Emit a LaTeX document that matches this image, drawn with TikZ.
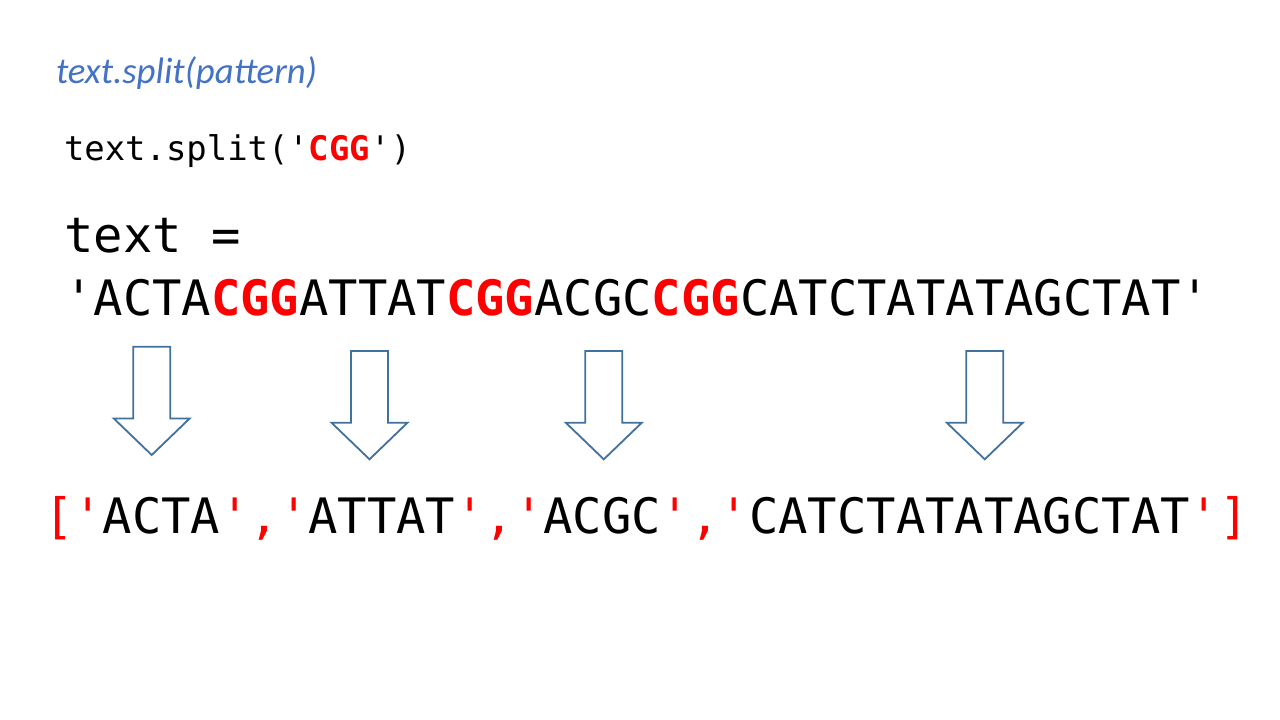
\documentclass[tikz,border=0pt]{standalone}
\usepackage{fontspec}
\setmainfont{Carlito}
\setmonofont{DejaVu Sans Mono}
\definecolor{titleblue}{HTML}{4472C4}
\definecolor{arrowblue}{HTML}{41719C}
\definecolor{hired}{HTML}{FF0000}
\newcommand\redb[1]{{\bfseries\color{hired}#1}}
\newcommand\redn[1]{{\color{hired}#1}}
\tikzset{
  txt/.style={anchor=base west, inner sep=0pt, outer sep=0pt},
  titletext/.style={txt, text=titleblue, font=\fontsize{36.8}{44}\selectfont\itshape},
  codesmall/.style={txt, font=\ttfamily\fontsize{33.9}{40}\selectfont},
  codebig/.style={txt, font=\ttfamily\fontsize{48.8}{58}\selectfont},
  blockarrow/.style={draw=arrowblue, line width=1.8pt, fill=white, line join=miter},
  pics/downarrow/.style={code={
    \draw[blockarrow] (-18.5,-108.3) -- (18.5,-108.3) -- (18.5,-36.6) -- (38,-36.6)
      -- (0,0) -- (-38,-36.6) -- (-18.5,-36.6) -- cycle;
  }}
}
\begin{document}
\begin{tikzpicture}[x=1pt,y=-1pt]
\useasboundingbox[fill=white] (0,0) rectangle (1280,720);
\node[titletext] (title) at (56,83) {text.split(pattern)};
\node[codesmall] (call) at (64,160) {text.split('\redb{CGG}')};
\node[codebig] (assign) at (64.3,252) {text =};
\node[codebig] (seq) at (64.3,315) {'ACTA\redb{CGG}ATTAT\redb{CGG}ACGC\redb{CGG}CATCTATATAGCTAT'};
\pic at (151.7,455) {downarrow};
\pic at (369.5,459.3) {downarrow};
\pic at (603.8,459.3) {downarrow};
\pic at (984.8,459.3) {downarrow};
\node[codebig] (result) at (44,533) {\redn{['}ACTA\redn{','}ATTAT\redn{','}ACGC\redn{','}CATCTATATAGCTAT\redn{']}};
\end{tikzpicture}
\end{document}
